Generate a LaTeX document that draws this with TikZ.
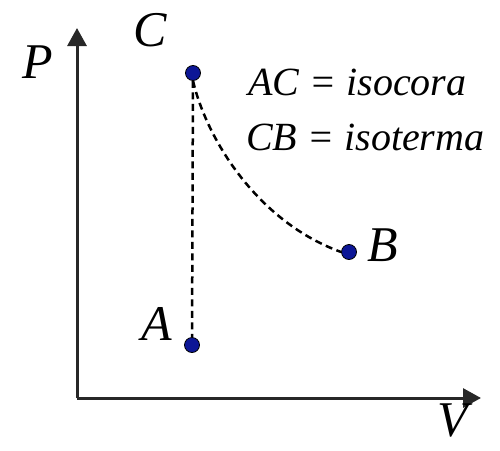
\documentclass[tikz,border=0pt]{standalone}
\usepackage{fontspec}
\setmainfont{Liberation Serif}
\usetikzlibrary{arrows.meta}
\definecolor{dotblue}{RGB}{12,22,150}
\definecolor{axisgray}{RGB}{40,40,40}
\begin{document}
\begin{tikzpicture}[x=1pt,y=-1pt,
  axis/.style={draw=axisgray,line width=3pt,-{Triangle[length=18pt,width=19pt]}},
  pt/.style={circle,draw=black,line width=0.8pt,fill=dotblue,minimum size=15pt,inner sep=0pt},
  lab/.style={font=\fontsize{50}{60}\selectfont\itshape,inner sep=0pt},
  txt/.style={font=\fontsize{40}{48}\selectfont\itshape,inner sep=0pt,anchor=base west},
  proc/.style={draw=black,line width=2.5pt,dash pattern=on 7pt off 4.5pt}]
\useasboundingbox (0,0) rectangle (500,450);
\coordinate (O) at (77,398);
\coordinate (Ptip) at (77,28);
\coordinate (Vtip) at (481,398);
\draw[axis] (O) -- (Ptip);
\draw[axis] (O) -- (Vtip);
\node[pt] (C) at (193,73) {};
\node[pt] (A) at (192,345) {};
\node[pt] (B) at (349,252) {};
\draw[proc] (C) -- (A);
\draw[proc] (C.south) .. controls (207,140) and (258,222) .. (B.west);
\node[lab] (Plab) at (38,62) {P};
\node[lab] (Clab) at (150,30) {C};
\node[lab] (Alab) at (157,324) {A};
\node[lab] (Blab) at (383,245) {B};
\node[lab] (Vlab) at (453,421) {V};
\node[txt] (t1) at (248,95) {AC = isocora};
\node[txt] (t2) at (246,150) {CB = isoterma};
\end{tikzpicture}
\end{document}
